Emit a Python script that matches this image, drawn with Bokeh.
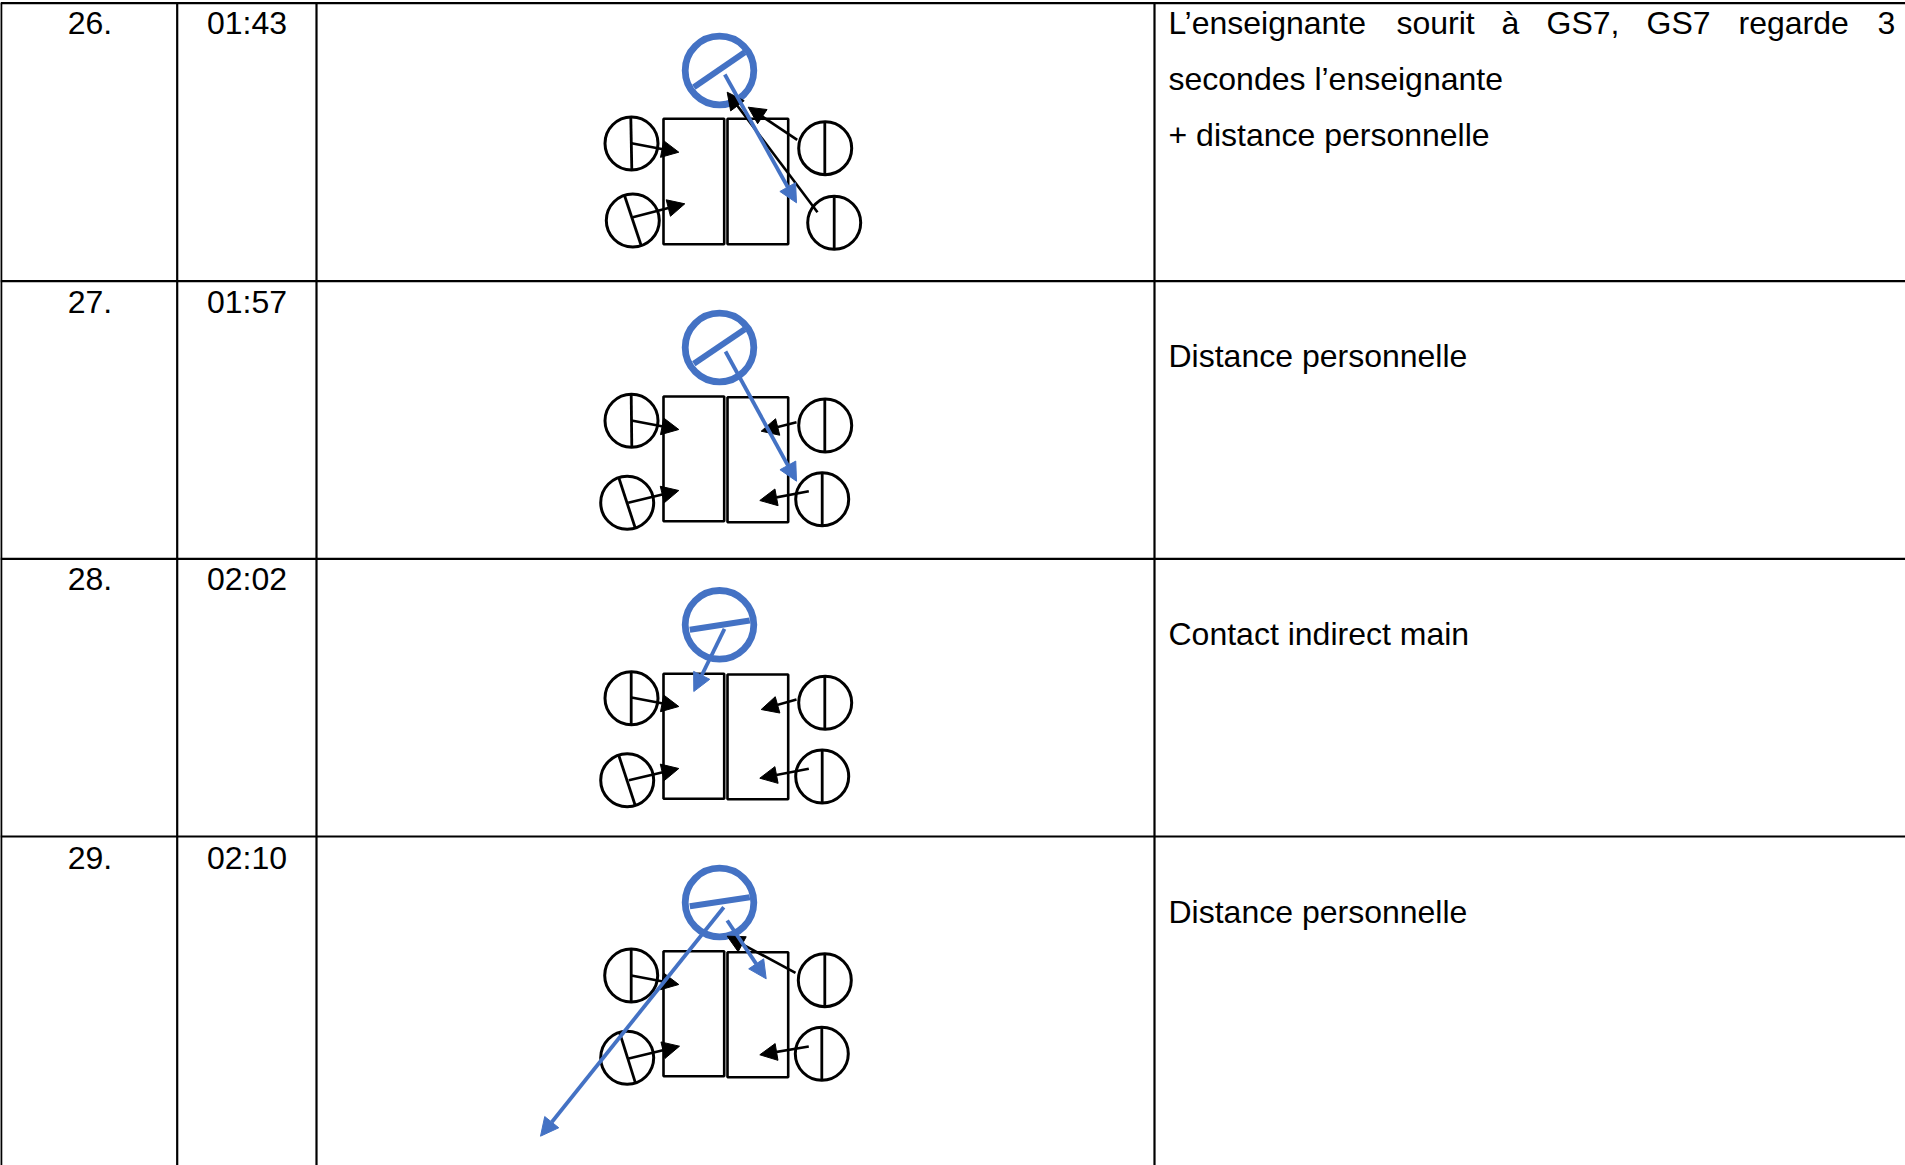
from bokeh.plotting import figure
from bokeh.models import Range1d, Arrow, NormalHead, ColumnDataSource
from bokeh.core.properties import value
from bokeh.embed import file_html
from bokeh.resources import INLINE

BLUE = "#4472C4"
FONT = value("Liberation Sans")

# table
row_lines = [2.7, 280.7, 558.3, 836]
col_lines = [0.7, 176.7, 316, 1154]
numbers = ["26.", "27.", "28.", "29."]
number_x = [89.5, 89.5, 89.5, 89.5]
number_y = [33, 312, 589, 868]
times = ["01:43", "01:57", "02:02", "02:10"]
time_x = [246.5, 246.5, 246.5, 246.5]
time_y = [33, 312, 589, 868]

# description text (first line is justified, word by word)
words = ["L’enseignante", "sourit", "à", "GS7,", "GS7", "regarde", "3",
         "secondes l’enseignante", "+ distance personnelle",
         "Distance personnelle", "Contact indirect main", "Distance personnelle"]
word_x = [1168, 1396, 1501, 1546, 1646, 1738, 1877, 1168, 1168, 1168, 1168, 1168]
word_y = [33, 33, 33, 33, 33, 33, 33, 89, 145, 366, 644, 922]

# desks: one left and one right per row
desk_left = [663, 727] * 4
desk_right = [723.7, 787.7] * 4
desk_top = [118.3, 118.3, 396, 396.7, 673.3, 674, 950.7, 951.7]
desk_bottom = [243.7, 243.7, 520.7, 521.7, 798.3, 798.7, 1075.7, 1076.7]

# teacher
teacher_x = [719, 719, 719, 719]
teacher_y = [70, 347, 624.3, 902]
teacher_bar_x0 = [693.3, 693.3, 689.3, 689.3]
teacher_bar_y0 = [86.7, 363.3, 629.3, 905.7]
teacher_bar_x1 = [744.3, 744.3, 749.3, 749.3]
teacher_bar_y1 = [51.7, 328.7, 620, 896.7]

# pupils: four per row
pupil_x = [631, 632.3, 824.7, 833.7, 631, 626.7, 824.7, 821.7,
           631, 626.7, 824.7, 821.7, 630.7, 626.7, 824.3, 821.3]
pupil_y = [143, 220, 147.7, 222.3, 420.3, 502.3, 425, 498.7,
           697.7, 779.7, 702.3, 776, 975, 1057.3, 979.7, 1053.3]
pupil_bar_x0 = [630.3, 624, 824.3, 833.7, 630.7, 618.3, 824.3, 821.7,
                630.7, 618.3, 824.3, 821.7, 630.7, 619.3, 824.3, 821.3]
pupil_bar_y0 = [116.7, 195, 121.7, 196.7, 394, 477.3, 398.3, 472.3,
                671.3, 755, 675.7, 749.3, 948.7, 1032.7, 953.3, 1027.3]
pupil_bar_x1 = [631.3, 641, 824.3, 833.7, 631.3, 635, 824.3, 821.7,
                630.7, 635, 824.3, 821.7, 630.7, 635, 824.3, 821.3]
pupil_bar_y1 = [169.3, 246, 174.3, 249.3, 446.7, 528.3, 451.7, 525.7,
                724, 805.7, 729, 802.7, 1001.3, 1082.7, 1006, 1080]

# gaze arrows of the pupils
gaze_x0 = [631, 632.3, 796.7, 817, 631, 627.7, 796, 808.3,
           631, 628.3, 796, 808.3, 630.7, 628.3, 795, 808.3]
gaze_y0 = [142.7, 216.7, 139.3, 211.7, 420, 502.3, 421.7, 490.7,
           697, 779.7, 699, 768.3, 975, 1058, 972.3, 1046]
gaze_x1 = [678.3, 684.3, 747.7, 726.7, 678.3, 678.3, 760.7, 759.3,
           678.3, 678.3, 760.7, 759.3, 678.3, 679, 726.7, 759.3]
gaze_y1 = [151.7, 203.3, 106.7, 91.7, 429, 490, 430.7, 500,
           706, 768, 709, 777.7, 984, 1045.7, 935.7, 1054.3]

# gaze arrows of the teacher
look_x0 = [724.3, 725, 724, 723.3, 726.7]
look_y0 = [74, 351, 628.3, 906.7, 920]
look_x1 = [796, 796, 693.3, 540, 765.7]
look_y1 = [202.3, 480.7, 691, 1135.7, 978.3]

p = figure(width=1905, height=1165, output_backend="svg", toolbar_location=None,
           x_range=Range1d(0, 1905), y_range=Range1d(1165, 0),
           min_border=0, outline_line_color=None, background_fill_color="white",
           border_fill_color="white", margin=0)
p.axis.visible = False
p.grid.visible = False

# table rules
p.segment(x0=[0] * 4, y0=row_lines, x1=[1905] * 4, y1=row_lines, line_color="black", line_width=2.2)
p.segment(x0=col_lines, y0=[row_lines[0]] * 4, x1=col_lines, y1=[1165] * 4, line_color="black", line_width=2.2)

# desks
p.quad(left=desk_left, right=desk_right, top=desk_top, bottom=desk_bottom,
       fill_color=None, line_color="black", line_width=2.6)

# pupils
p.circle(x=pupil_x, y=pupil_y, radius=26.5, fill_color=None, line_color="black", line_width=3)
p.segment(x0=pupil_bar_x0, y0=pupil_bar_y0, x1=pupil_bar_x1, y1=pupil_bar_y1,
          line_color="black", line_width=2.8)

# teacher
p.circle(x=teacher_x, y=teacher_y, radius=34.3, fill_color=None, line_color=BLUE, line_width=6.8)
p.segment(x0=teacher_bar_x0, y0=teacher_bar_y0, x1=teacher_bar_x1, y1=teacher_bar_y1,
          line_color=BLUE, line_width=6)

p.add_layout(Arrow(end=NormalHead(size=17, fill_color="black", line_color="black", line_width=1),
                   x_start="x0", y_start="y0", x_end="x1", y_end="y1",
                   line_color="black", line_width=2.6,
                   source=ColumnDataSource(dict(x0=gaze_x0, y0=gaze_y0, x1=gaze_x1, y1=gaze_y1))))
p.add_layout(Arrow(end=NormalHead(size=18, fill_color=BLUE, line_color=BLUE, line_width=1),
                   x_start="x0", y_start="y0", x_end="x1", y_end="y1",
                   line_color=BLUE, line_width=3.8,
                   source=ColumnDataSource(dict(x0=look_x0, y0=look_y0, x1=look_x1, y1=look_y1))))

# texts
text_style = dict(text_font=FONT, text_font_size="32px", text_color="black",
                  text_baseline="alphabetic", y_offset=-10.5)
p.text(x=number_x, y=number_y, text=numbers, text_align="center", **text_style)
p.text(x=time_x, y=time_y, text=times, text_align="center", **text_style)
p.text(x=word_x, y=word_y, text=words, text_align="left", **text_style)

open("out.html", "w").write(file_html(p, INLINE))
